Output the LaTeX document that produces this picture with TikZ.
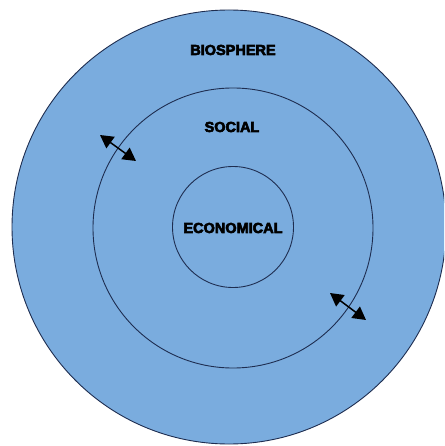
\documentclass[tikz,border=0pt]{standalone}
\usepackage{fontspec}
\newfontfamily\heavy[FakeBold=4]{Liberation Sans Bold}
\usetikzlibrary{arrows.meta}
\definecolor{ringfill}{RGB}{122,172,222}
\definecolor{ringline}{RGB}{30,45,80}
\tikzset{
  ring/.style={circle, draw=ringline, line width=0.9pt, inner sep=0pt},
  lbl/.style={font=\heavy\fontsize{14.5}{16}\selectfont, text=black, inner sep=0pt},
  twoway/.style={{Triangle[length=13pt,width=14pt]}-{Triangle[length=13pt,width=14pt]}, line width=1.5pt, black}
}
\begin{document}
\begin{tikzpicture}[x=1pt,y=-1pt]
\useasboundingbox (0,0) rectangle (444,446);
\clip (0,0) rectangle (444,446);
\fill[white] (0,0) rectangle (444,446);
\node[ring, fill=ringfill, minimum size=434pt] (bio) at (229,227) {};
\node[ring, minimum size=280pt] (soc) at (233,228) {};
\node[ring, minimum size=121pt] (eco) at (233,227) {};
\node[lbl] (tbio) at (233,50) {BIOSPHERE};
\node[lbl] (tsoc) at (232,127) {SOCIAL};
\node[lbl] (teco) at (233,228) {ECONOMICAL};
\coordinate (a1) at (100,135);
\coordinate (a2) at (136,161);
\coordinate (b1) at (330,293);
\coordinate (b2) at (366,320);
\draw[twoway] (a1) -- (a2);
\draw[twoway] (b1) -- (b2);
\end{tikzpicture}
\end{document}
